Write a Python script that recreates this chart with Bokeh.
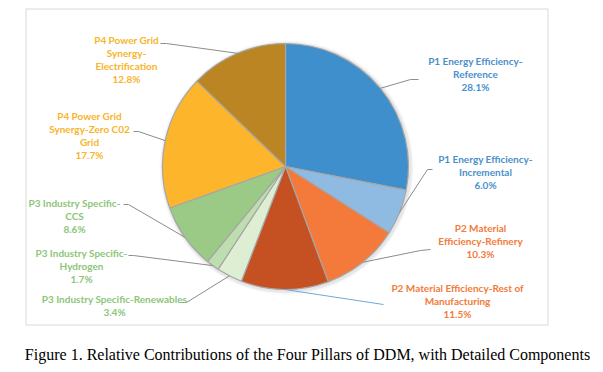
import math
from bokeh.plotting import figure
from bokeh.models import Range1d, ColumnDataSource
from bokeh.core.properties import value
from bokeh.embed import file_html
from bokeh.resources import INLINE

# ---- data ----
components = [
    "P1 Energy Efficiency-Reference",
    "P1 Energy Efficiency-Incremental",
    "P2 Material Efficiency-Refinery",
    "P2 Material Efficiency-Rest of Manufacturing",
    "P3 Industry Specific-Renewables",
    "P3 Industry Specific-Hydrogen",
    "P3 Industry Specific-CCS",
    "P4 Power Grid Synergy-Zero C02 Grid",
    "P4 Power Grid Synergy-Electrification",
]
shares = [28.1, 6.0, 10.3, 11.5, 3.4, 1.7, 8.6, 17.7, 12.8]
label_lines = [
    ["P1 Energy Efficiency-", "Reference"],
    ["P1 Energy Efficiency-", "Incremental"],
    ["P2 Material", "Efficiency-Refinery"],
    ["P2 Material Efficiency-Rest of", "Manufacturing"],
    ["P3 Industry Specific-Renewables"],
    ["P3 Industry Specific-", "Hydrogen"],
    ["P3 Industry Specific-", "CCS"],
    ["P4 Power Grid", "Synergy-Zero C02", "Grid"],
    ["P4 Power Grid", "Synergy-", "Electrification"],
]
caption = "Figure 1. Relative Contributions of the Four Pillars of DDM, with Detailed Components"

# ---- styles / layout ----
slice_colors = ["#3F8FCD", "#8FBBE2", "#F47A3B", "#C55022", "#DDEED3",
                "#BFDEB0", "#9ACA86", "#FDB52B", "#BA8522"]
label_colors = ["#4A90CC", "#4A90CC", "#F27B3A", "#F27B3A", "#8DC57A",
                "#8DC57A", "#8DC57A", "#F8B42A", "#F8B42A"]
leader_colors = ["#8C8C8C"] * 3 + ["#6FA8DC"] + ["#8C8C8C"] * 5

W, H = 603, 372
def fx(px): return px
def fy(py): return H - py

cx, cy, R = 285, 166, 123
# label anchors (page px): center x, first line y
label_pos = [(475, 60), (485, 158), (480, 227), (457, 287), (114, 298),
             (81, 252), (74, 202), (89, 115), (126, 39)]
# leader elbow points (page px), ordered from label side
leader_ends = [
    [(418, 79), (410, 79)],
    [(432, 169), (427, 169)],
    [(430, 249), (420, 250)],
    [(383, 304)],
    [(178, 302), (186, 302)],
    [(128, 255), (133, 255)],
    [(123, 204), (128, 204)],
    [(133, 131), (138, 131)],
    [(160, 43), (166, 43)],
]

p = figure(width=W, height=H, output_backend="svg", toolbar_location=None,
           x_range=Range1d(0, W), y_range=Range1d(0, H), min_border=0)
p.axis.visible = False
p.grid.visible = False
p.outline_line_color = None
p.background_fill_color = "white"
p.border_fill_color = "white"

# chart box
p.quad(left=[fx(25.5)], right=[fx(547.5)], top=[fy(8.5)], bottom=[fy(324.5)],
       fill_color=None, line_color="#D9D9D9", line_width=1)

# soft shadow behind pie
for off, alpha in [(4, 0.05), (3, 0.07), (2, 0.09)]:
    p.circle(x=[fx(cx) + 1], y=[fy(cy) - 1], radius=R + off,
             fill_color="#808080", fill_alpha=alpha, line_color=None)

total = sum(shares)
starts, ends, mids = [], [], []
cum = 0.0
for s in shares:
    a0 = math.pi / 2 - cum / total * 2 * math.pi
    cum += s
    a1 = math.pi / 2 - cum / total * 2 * math.pi
    starts.append(a0)
    ends.append(a1)
    mids.append((a0 + a1) / 2)

src = ColumnDataSource(dict(start=starts, end=ends, color=slice_colors, name=components))
p.wedge(x=fx(cx), y=fy(cy), radius=R, start_angle="start", end_angle="end",
        direction="clock", fill_color="color", line_color="#A6A6A6",
        line_width=1.2, source=src)

# leader lines
for i, m in enumerate(mids):
    sx = fx(cx) + R * math.cos(m)
    sy = fy(cy) + R * math.sin(m)
    xs = [fx(a) for a, b in leader_ends[i]] + [sx]
    ys = [fy(b) for a, b in leader_ends[i]] + [sy]
    p.line(xs, ys, line_color=leader_colors[i], line_width=1)

# labels
LH = 13.3
for i, lines in enumerate(label_lines):
    lx, ly = label_pos[i]
    all_lines = lines + [f"{shares[i]:.1f}%"]
    for k, t in enumerate(all_lines):
        p.text(x=[fx(lx)], y=[fy(ly + k * LH)], text=[t],
               text_font=value("Lato"), text_font_style="bold",
               text_font_size="10px", text_color=label_colors[i],
               text_align="center", text_baseline="middle")

p.text(x=[fx(307)], y=[fy(354)], text=[caption],
       text_font=value("Liberation Serif"), text_font_size="16px",
       text_color="black", text_align="center", text_baseline="middle")

open("out.html", "w").write(file_html(p, INLINE))
